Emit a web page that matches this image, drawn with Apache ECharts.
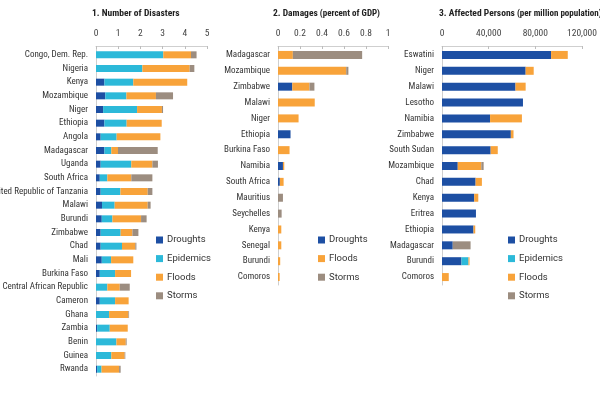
<!DOCTYPE html>
<html>
<head>
<meta charset="utf-8">
<script src="https://cdn.jsdelivr.net/npm/echarts@6/dist/echarts.min.js"></script>
<style>html,body{margin:0;padding:0;background:#fff}#c{width:600px;height:400px}</style>
</head>
<body>
<div id="c"></div>
<script>
// ---- Panel 1: Number of Disasters ----
var p1Countries = ['Congo, Dem. Rep.','Nigeria','Kenya','Mozambique','Niger','Ethiopia','Angola','Madagascar','Uganda','South Africa','United Republic of Tanzania','Malawi','Burundi','Zimbabwe','Chad','Mali','Burkina Faso','Central African Republic','Cameron','Ghana','Zambia','Benin','Guinea','Rwanda'];
var p1Droughts  = [0, 0, 0.38, 0.42, 0.32, 0.38, 0.21, 0.38, 0.21, 0.17, 0.21, 0.27, 0.26, 0.21, 0.21, 0.26, 0.17, 0, 0.17, 0, 0.05, 0, 0, 0.05];
var p1Epidemics = [3.03, 2.09, 1.30, 0.95, 1.53, 1.00, 0.72, 0.31, 1.38, 0.34, 0.89, 0.57, 0.48, 0.90, 0.96, 0.42, 0.69, 0.51, 0.69, 0.59, 0.57, 0.92, 0.69, 0.20];
var p1Floods    = [1.25, 2.13, 2.43, 1.33, 1.12, 1.58, 1.97, 0.30, 0.95, 1.08, 1.23, 1.49, 1.29, 0.53, 0.60, 1.00, 0.72, 0.56, 0.61, 0.87, 0.81, 0.42, 0.60, 0.79];
var p1Storms    = [0.25, 0.21, 0, 0.77, 0.05, 0, 0, 1.79, 0.25, 0.95, 0.21, 0.13, 0.25, 0.27, 0.05, 0, 0, 0.45, 0, 0.03, 0, 0.04, 0.03, 0.07];
var p1Ticks = [0, 1, 2, 3, 4, 5];

// ---- Panel 2: Damages (percent of GDP) ----
var p2Countries = ['Madagascar','Mozambique','Zimbabwe','Malawi','Niger','Ethiopia','Burkina Faso','Namibia','South Africa','Mauritius','Seychelles','Kenya','Senegal','Burundi','Comoros'];
var p2Droughts = [0, 0, 0.13, 0, 0, 0.114, 0, 0.045, 0.017, 0, 0, 0, 0, 0, 0];
var p2Floods   = [0.135, 0.62, 0.156, 0.334, 0.187, 0, 0.105, 0.012, 0.034, 0, 0, 0.03, 0.03, 0.02, 0.015];
var p2Storms   = [0.63, 0.02, 0.045, 0, 0, 0, 0, 0, 0, 0.045, 0.033, 0, 0, 0, 0];
var p2Ticks = [0, 0.2, 0.4, 0.6, 0.8, 1];

// ---- Panel 3: Affected Persons (per million population) ----
var p3Countries = ['Eswatini','Niger','Malawi','Lesotho','Namibia','Zimbabwe','South Sudan','Mozambique','Chad','Kenya','Eritrea','Ethiopia','Madagascar','Burundi','Comoros'];
var p3Droughts  = [93500, 71700, 63000, 69400, 41200, 59000, 41700, 13500, 28800, 27600, 29100, 27000, 9200, 16700, 0];
var p3Epidemics = [0, 0, 0, 0, 0, 0, 0, 0, 0, 0, 0, 0, 0, 6000, 0];
var p3Floods    = [14300, 6900, 8700, 0, 27300, 2300, 6100, 20200, 5400, 3500, 0, 1500, 0, 900, 5800];
var p3Storms    = [0, 0, 0, 0, 0, 0, 0, 2000, 0, 0, 0, 0, 15300, 0, 0];
var p3Ticks = [0, 40000, 80000, 120000];

var COLORS = {Droughts:'#1d4fa3', Epidemics:'#2cb9d9', Floods:'#f8a33a', Storms:'#9c8d80'};
var NARROW = '"Roboto Condensed","DejaVu Sans Condensed",sans-serif';
var REG = 'Roboto,"Liberation Sans",sans-serif';

function xAx(idx, ticks, offset, fmt) {
  return {
    type:'value', gridIndex: idx, position:'top', min:ticks[0], max:ticks[ticks.length-1],
    interval:ticks[1]-ticks[0], offset:offset,
    axisLine:{show:true, lineStyle:{color:'#cfcfcf', width:1}},
    axisTick:{show:true, inside:true, length:3, lineStyle:{color:'#bdbdbd'}},
    splitLine:{show:false},
    axisLabel:{margin:7, fontFamily:NARROW, fontSize:9.5, color:'#444', formatter: fmt}
  };
}
function yAx(idx, cats) {
  return {
    type:'category', gridIndex: idx, data:cats, inverse:true,
    axisLine:{show:true, lineStyle:{color:'#cfcfcf', width:1}},
    axisTick:{show:false},
    axisLabel:{margin:8, fontFamily:NARROW, fontSize:9, color:'#333'}
  };
}
function bar(name, idx, data, w) {
  return {
    type:'bar', name:name, xAxisIndex:idx, yAxisIndex:idx, stack:'s'+idx, data:data,
    barWidth:w, itemStyle:{color:COLORS[name]}, emphasis:{disabled:true}
  };
}
function leg(left, names) {
  return {
    orient:'vertical', left:left, top:235, data:names, icon:'rect', itemWidth:7, itemHeight:7, itemGap:8.6,
    selectedMode:false, padding:0,
    textStyle:{fontFamily:REG, fontSize:9.5, color:'#333', padding:[0,0,0,-1]}
  };
}
function fmtThousands(v){ return v === 0 ? '0' : String(v).replace(/\B(?=(\d{3})+(?!\d))/g, ','); }

var titleRich = {
  b:{fontFamily:NARROW, fontWeight:'bold', fontSize:9.5, color:'#222'},
  n:{fontFamily:NARROW, fontSize:9, color:'#222'}
};
function ttl(text, left) {
  return {text:text, left:left, top:9, padding:0, textStyle:{fontSize:9, rich:titleRich}};
}

var chart = echarts.init(document.getElementById('c'), null, {renderer:'canvas'});
chart.setOption({
  animation:false,
  backgroundColor:'#fff',
  title:[
    ttl('{b|1. Number of Disasters}', 92),
    ttl('{b|2. Damages}{n| (percent of GDP)}', 273),
    ttl('{b|3. Affected Persons}{n| (per million population)}', 439)
  ],
  legend:[
    leg(156, ['Droughts','Epidemics','Floods','Storms']),
    leg(318, ['Droughts','Floods','Storms']),
    leg(508, ['Droughts','Epidemics','Floods','Storms'])
  ],
  grid:[
    {left:96, width:111, top:48, height:328, outerBoundsMode:'none', containLabel:false},
    {left:278, width:110, top:47, height:238, outerBoundsMode:'none', containLabel:false},
    {left:442, width:140, top:47, height:238, outerBoundsMode:'none', containLabel:false}
  ],
  xAxis:[
    xAx(0, p1Ticks, 2, function(v){return String(v);}),
    xAx(1, p2Ticks, 1, function(v){return String(Math.round(v*10)/10);}),
    xAx(2, p3Ticks, 1, fmtThousands)
  ],
  yAxis:[ yAx(0, p1Countries), yAx(1, p2Countries), yAx(2, p3Countries) ],
  series:[
    bar('Droughts',0,p1Droughts,7), bar('Epidemics',0,p1Epidemics,7), bar('Floods',0,p1Floods,7), bar('Storms',0,p1Storms,7),
    bar('Droughts',1,p2Droughts,8), bar('Floods',1,p2Floods,8), bar('Storms',1,p2Storms,8),
    bar('Droughts',2,p3Droughts,8), bar('Epidemics',2,p3Epidemics,8), bar('Floods',2,p3Floods,8), bar('Storms',2,p3Storms,8)
  ]
});
</script>
</body>
</html>
